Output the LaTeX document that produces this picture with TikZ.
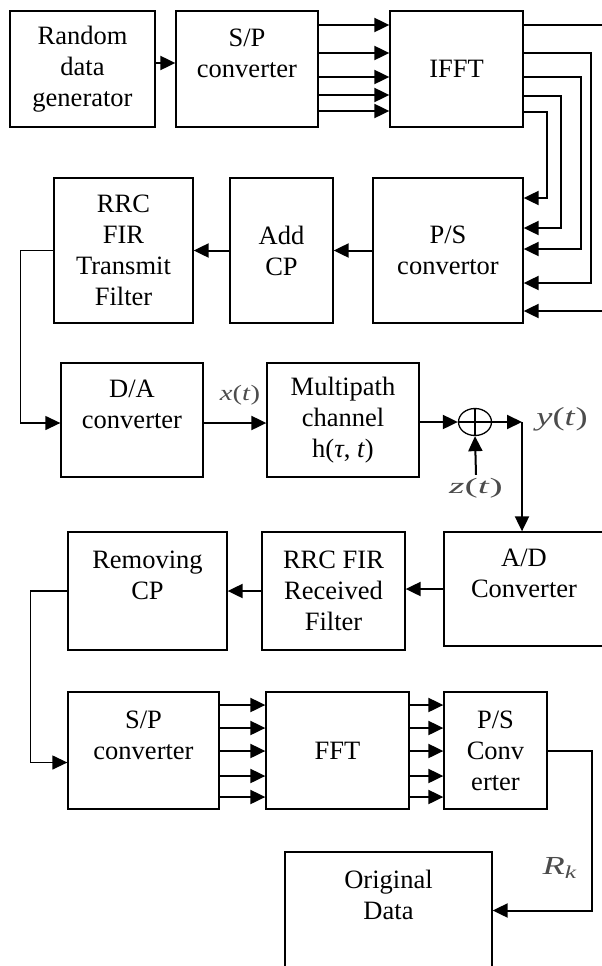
\documentclass[tikz,border=0pt]{standalone}
\usepackage{fontspec}
\setmainfont{Liberation Serif}
\usetikzlibrary{arrows.meta,shapes.geometric}
\begin{document}
\begin{tikzpicture}[x=1pt,y=-1pt,
    box/.style={draw, line width=1.3pt, align=center, inner sep=0pt, font=\fontsize{26.5}{31}\selectfont},
    arr/.style={line width=2pt, -{Triangle[length=15pt,width=14pt]}},
    wire/.style={line width=1.3pt},
    sig/.style={text=black!70, inner sep=0pt}]
  \useasboundingbox (0,0) rectangle (602,966);
  \clip (0,0) rectangle (602,966);
  % transmitter
  \node[box, minimum width=145pt, minimum height=116pt] (rnd) at (82.5,69) {Random\\data\\generator};
  \node[box, minimum width=142pt, minimum height=116pt] (sp) at (247,69) {S/P\\converter\\~};
  \node[box, minimum width=133pt, minimum height=116pt] (ifft) at (456.5,69) {IFFT};
  \node[box, minimum width=150pt, minimum height=145pt] (ps) at (448,250.5) {P/S\\convertor};
  \node[box, minimum width=103pt, minimum height=145pt] (addcp) at (281.5,250.5) {Add\\CP};
  \node[box, minimum width=139pt, minimum height=145pt] (rrct) at (123.5,250.5) {RRC\\FIR\\Transmit\\Filter};
  \draw[arr] ([yshift=6pt]rnd.east) -- ([yshift=6pt]sp.west);
  \foreach \y in {25,53,77,95,111}
    \draw[arr] (sp.east |- 0,\y) -- (ifft.west |- 0,\y);
  \foreach \y/\x/\t in {25/604/311, 53/591/283, 77/581/249, 96/561/228, 112/547/198}
    \draw[arr] (ifft.east |- 0,\y) -| (\x,\t) -- (ps.east |- 0,\t);
  \draw[arr] (ps.west) -- (addcp.east);
  \draw[arr] (addcp.west) -- (rrct.east);
  % channel
  \node[box, minimum width=142pt, minimum height=114pt] (da) at (132,420) {D/A\\converter\\~};
  \node[box, minimum width=152pt, minimum height=114pt] (mp) at (343,420) {Multipath\\channel\\h(\textit{τ}, \textit{t})};
  \node[draw, ellipse, line width=1.3pt, minimum width=33pt, minimum height=27pt, inner sep=0pt] (sum) at (475,422) {};
  \draw[line width=1.3pt] (sum.north) -- (sum.south) (sum.west) -- (sum.east);
  \coordinate (yt) at (522,422);
  \node[sig, font=\fontsize{22}{24}\selectfont] (xlbl) at (240,395) {\scalebox{1.3}[1]{\textit{x}(\textit{t})}};
  \node[sig, font=\fontsize{26}{28}\selectfont] (ylbl) at (562,419) {\scalebox{1.4}[1]{\textit{y}(\textit{t})}};
  \node[sig, font=\fontsize{22}{24}\selectfont] (zlbl) at (476,488) {\scalebox{1.8}[1]{\textit{z}(\textit{t})}};
  \draw[arr, wire] (rrct.west) -- ++(-33,0) |- ([yshift=-3pt]da.west);
  \draw[arr] ([yshift=-3pt]da.east) -- ([yshift=-3pt]mp.west);
  \draw[arr] (mp.east |- sum) -- (sum.west);
  \draw[arr] (sum.east) -- (yt);
  \draw[arr] ([yshift=3pt]zlbl.north) -- (sum.south);
  % receiver
  \node[box, minimum width=160pt, minimum height=114pt] (ad) at (524,589) {A/D\\Converter\\~};
  \node[box, minimum width=143pt, minimum height=118pt] (rrcr) at (333.5,591) {RRC FIR\\Received\\Filter};
  \node[box, minimum width=159pt, minimum height=118pt] (rmcp) at (147.5,591) {Removing\\CP\\~};
  \draw[arr] (yt) -- (yt |- ad.north);
  \draw[arr] (ad.west) -- (rrcr.east |- ad.west);
  \draw[arr] (rrcr.west) -- (rmcp.east);
  \node[box, minimum width=151pt, minimum height=117pt] (sp2) at (143.5,750.5) {S/P\\converter\\~};
  \node[box, minimum width=143pt, minimum height=117pt] (fft) at (337.5,750.5) {FFT};
  \node[box, minimum width=103pt, minimum height=117pt] (ps2) at (495.5,750.5) {P/S\\Conv\\erter};
  \node[box, minimum width=207pt, minimum height=117pt] (orig) at (388.5,910.5) {Original\\Data\\~};
  \draw[arr, wire] (rmcp.west) -- ++(-37,0) |- ([yshift=-12pt]sp2.west);
  \foreach \y in {705,728,751,776,797} {
    \draw[arr] (sp2.east |- 0,\y) -- (fft.west |- 0,\y);
    \draw[arr] (fft.east |- 0,\y) -- (ps2.west |- 0,\y);
  }
  \draw[arr] (ps2.east) -- ++(44,0) |- (orig.east);
  \node[sig, font=\fontsize{26}{28}\selectfont] (rk) at (560,868) {\scalebox{1.4}[1]{\textit{R}\textsubscript{\textit{k}}}};
\end{tikzpicture}
\end{document}
